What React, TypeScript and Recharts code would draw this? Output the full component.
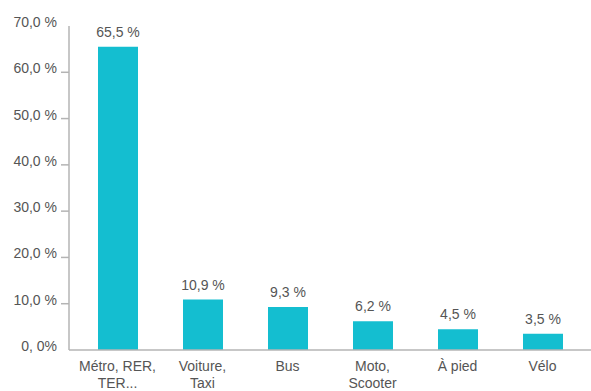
import { BarChart, Bar, XAxis, YAxis, LabelList } from 'recharts'

const categories = ['Métro, RER, TER...', 'Voiture, Taxi', 'Bus', 'Moto, Scooter', 'À pied', 'Vélo']
const categoryLines = [['Métro, RER,', 'TER...'], ['Voiture,', 'Taxi'], ['Bus'], ['Moto,', 'Scooter'], ['À pied'], ['Vélo']]
const shares = [65.5, 10.9, 9.3, 6.2, 4.5, 3.5]
const yTicks = [0, 10, 20, 30, 40, 50, 60, 70]

const data = categories.map((c, i) => ({ name: c, value: shares[i] }))

const FONT = '"Liberation Sans", Arial, sans-serif'
const TEXT = '#555555'
const AXIS = '#b4b4b4'
const BAR = '#14bed0'

const pct = (v: number) => v.toFixed(1).replace('.', ',') + ' %'

function YTick(props: any) {
  const { x, y, payload } = props
  const v = payload.value as number
  const label = v === 0 ? '0, 0%' : pct(v)
  const showLine = v !== 0 && v !== 70
  return (
    <g>
      <text x={x - 4} y={y - 4} textAnchor="end" dominantBaseline="central" fontSize={14} fontFamily={FONT} fill={TEXT}>
        {label}
      </text>
      {showLine && <line x1={x} x2={x + 8} y1={y} y2={y} stroke={AXIS} strokeWidth={1.5} />}
    </g>
  )
}

function XTick(props: any) {
  const { x, y, payload } = props
  const lines = categoryLines[categories.indexOf(payload.value)] ?? [payload.value]
  return (
    <text x={x} y={y} textAnchor="middle" fontSize={14} fontFamily={FONT} fill={TEXT}>
      {lines.map((l, i) => (
        <tspan key={i} x={x} dy={i === 0 ? 13 : 17}>{l}</tspan>
      ))}
    </text>
  )
}

function ValueLabel(props: any) {
  const { x, y, width, value } = props
  return (
    <text x={x + width / 2} y={y - 10} textAnchor="middle" fontSize={14} fontFamily={FONT} fill={TEXT}>
      {pct(Number(value))}
    </text>
  )
}

export default function App() {
  return (
    <div style={{ position: 'absolute', left: 0, top: 0, width: 591, height: 391, background: '#fff' }}>
      <BarChart width={591} height={391} data={data} margin={{ top: 26, right: 0, left: 0, bottom: 0 }}>
        <XAxis
          dataKey="name"
          height={41}
          padding={{ left: 6, right: 6 }}
          tick={<XTick />}
          tickLine={false}
          axisLine={{ stroke: AXIS, strokeWidth: 1.5 }}
          interval={0}
        />
        <YAxis
          width={69}
          domain={[0, 70]}
          ticks={yTicks}
          tick={<YTick />}
          tickLine={false}
          axisLine={{ stroke: AXIS, strokeWidth: 1.5 }}
        />
        <Bar dataKey="value" fill={BAR} barSize={40} isAnimationActive={false}>
          <LabelList dataKey="value" content={<ValueLabel />} />
        </Bar>
      </BarChart>
    </div>
  )
}
